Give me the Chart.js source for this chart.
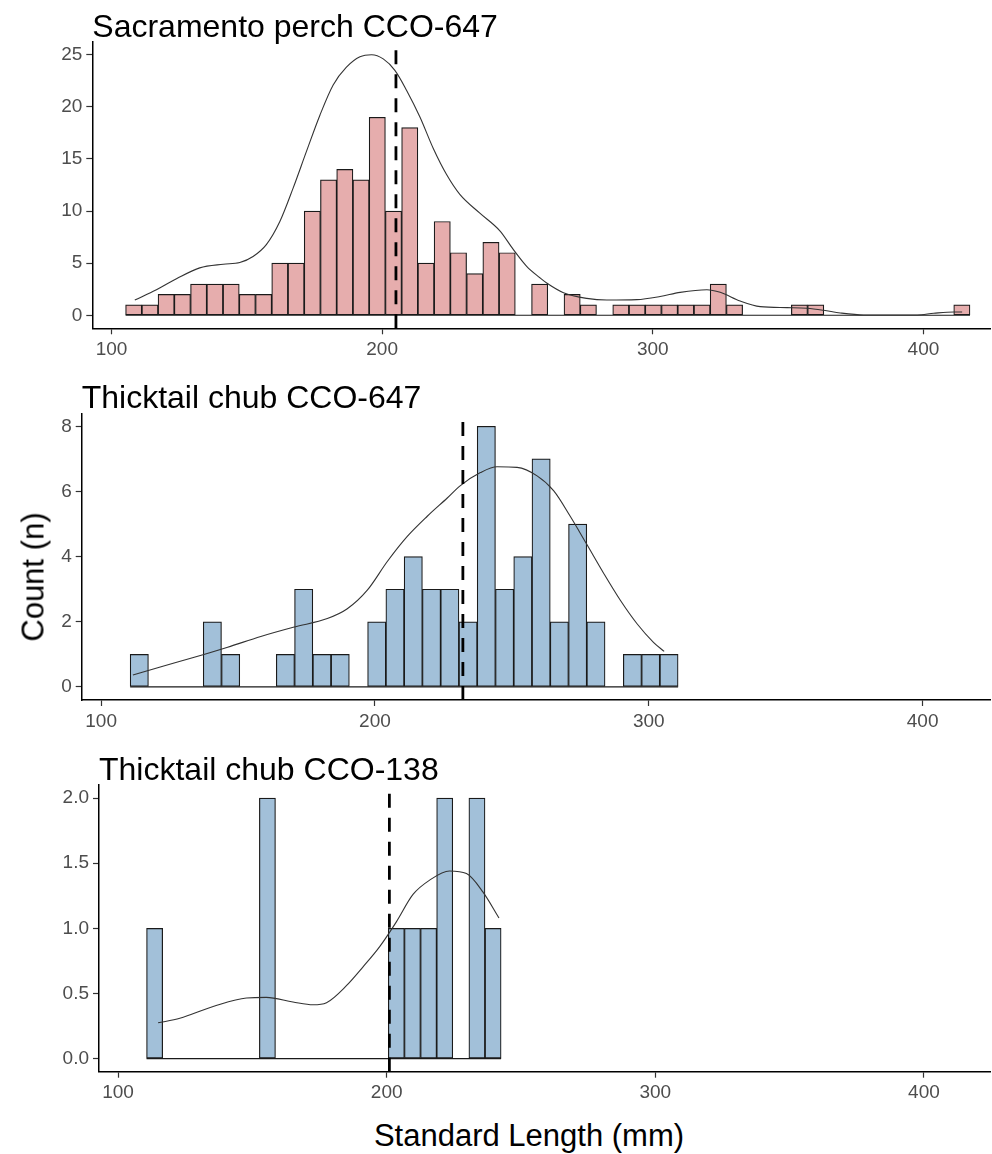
<!DOCTYPE html>
<html>
<head>
<meta charset="utf-8">
<title>Standard length histograms</title>
<script src="https://cdn.jsdelivr.net/npm/chart.js"></script>
<style>
  html, body { margin: 0; padding: 0; background: #fff; }
  #page { position: relative; width: 992px; height: 1154px; overflow: hidden; font-family: "Liberation Sans", Arial, sans-serif; }
  canvas { position: absolute; left: 0; }
  .axis-title { position: absolute; font-size: 31px; line-height: 31px; color: #000; white-space: nowrap; }
  #ytitle { left: 33px; top: 577px; transform: translate(-50%, -50%) rotate(-90deg); }
  #xtitle { left: 529px; top: 1120px; transform: translateX(-50%); }
</style>
</head>
<body>
<div id="page">
  <canvas id="perch" width="992" height="370" style="top:0px"></canvas>
  <canvas id="chub647" width="992" height="370" style="top:370px"></canvas>
  <canvas id="chub138" width="992" height="370" style="top:740px"></canvas>
  <div class="axis-title" id="ytitle">Count (n)</div>
  <div class="axis-title" id="xtitle">Standard Length (mm)</div>
</div>
<script>
// x axis shared by the three panels
const xTicks = [100, 200, 300, 400];
const xRange = [92.9, 424.6];

// Sacramento perch CCO-647
const perchTitle = "Sacramento perch CCO-647";
const perchBinStart = 105.2;
const perchBinWidth = 6;
const perchCounts = [1, 1, 2, 2, 3, 3, 3, 2, 2, 5, 5, 10, 13, 14, 13, 19, 10, 18, 5, 9, 6, 4, 7, 6,
  0, 3, 0, 2, 1, 0, 1, 1, 1, 1, 1, 1, 3, 1, 0, 0, 0, 1, 1, 0, 0, 0, 0, 0, 0, 0, 0, 1];
const perchDensX = [108.6, 116.6, 124.0, 132.6, 141.3, 147.4, 152.3, 157.2, 162.2, 167.1, 172.0, 177.0,
  181.9, 186.8, 191.8, 196.1, 200.4, 204.7, 209.0, 214.0, 218.9, 223.8, 228.7, 236.1, 243.5, 248.5,
  253.4, 258.3, 260.8, 267.0, 275.6, 283.0, 294.1, 302.7, 310.1, 320.0, 324.9, 332.3, 339.7, 349.6,
  357.0, 363.1, 369.3, 377.9, 397.7, 403.8, 411.2, 414.3];
const perchDensY = [1.46, 2.45, 3.5, 4.55, 4.9, 5.06, 5.64, 6.78, 9.0, 12.2, 15.7, 19.2,
  22.1, 23.8, 24.8, 25.0, 24.6, 23.5, 21.6, 19.0, 16.0, 13.5, 11.6, 9.8, 8.1, 6.3,
  4.7, 3.6, 3.1, 2.17, 1.62, 1.46, 1.5, 1.8, 2.2, 2.45, 2.2, 1.37, 0.83, 0.73,
  0.67, 0.48, 0.22, 0.03, 0.03, 0.19, 0.32, 0.32];
const perchMean = 205.1;
const perchYTicks = [0, 5, 10, 15, 20, 25];
const perchYRange = [-1.25, 26.25];

// Thicktail chub CCO-647
const chub647Title = "Thicktail chub CCO-647";
const chub647BinStart = 110.6;
const chub647BinWidth = 6.67;
const chub647Counts = [1, 0, 0, 0, 2, 1, 0, 0, 1, 3, 1, 1, 0, 2, 3, 4, 3, 3, 2, 8, 3, 4, 7, 2, 5, 2, 0, 1, 1, 1];
const chub647DensX = [111.6, 121.9, 134.0, 146.2, 158.3, 170.5, 182.6, 189.9, 197.2, 204.5, 211.8, 219.1,
  226.4, 231.2, 238.5, 244.6, 251.9, 259.2, 265.3, 271.3, 277.4, 283.5, 289.6, 295.7, 301.7, 305.6];
const chub647DensY = [0.37, 0.62, 0.91, 1.22, 1.55, 1.84, 2.1, 2.4, 2.97, 3.85, 4.62, 5.24,
  5.8, 6.18, 6.58, 6.76, 6.74, 6.48, 6.02, 5.24, 4.37, 3.49, 2.66, 1.94, 1.37, 1.09];
const chub647Mean = 232.1;
const chub647YTicks = [0, 2, 4, 6, 8];
const chub647YRange = [-0.4, 8.4];

// Thicktail chub CCO-138
const chub138Title = "Thicktail chub CCO-138";
const chub138BinStart = 110.6;
const chub138BinWidth = 6;
const chub138Counts = [1, 0, 0, 0, 0, 0, 0, 2, 0, 0, 0, 0, 0, 0, 0, 1, 1, 1, 2, 0, 2, 1];
const chub138DensX = [114.9, 123.0, 135.4, 147.8, 155.2, 165.1, 172.6, 177.6, 185.0, 191.2, 197.4, 203.6,
  209.8, 216.0, 223.4, 229.7, 235.8, 241.8];
const chub138DensY = [0.275, 0.31, 0.40, 0.466, 0.47, 0.435, 0.414, 0.43, 0.56, 0.705, 0.86, 1.05,
  1.26, 1.37, 1.44, 1.42, 1.28, 1.08];
const chub138Mean = 201.0;
const chub138YTicks = [0, 0.5, 1, 1.5, 2];
const chub138YRange = [-0.1, 2.1];

Chart.defaults.font.family = '"Liberation Sans", Arial, sans-serif';

const pink = "rgb(230,173,173)";
const blue = "rgb(162,192,217)";

function histogram(canvasId, p, g) {
  const bars = p.counts.map((n, i) => ({ x: p.binStart + (i + 0.5) * p.binWidth, y: n }));
  const density = p.densX.map((x, i) => ({ x: x, y: p.densY[i] }));
  const binEnd = p.binStart + p.counts.length * p.binWidth;

  return new Chart(document.getElementById(canvasId), {
    type: "bar",
    data: {
      datasets: [
        { // mean line
          type: "line",
          data: [{ x: p.mean, y: p.yRange[0] }, { x: p.mean, y: p.yRange[1] }],
          borderColor: "#000", borderWidth: 2.8, borderDash: [14, 10], borderCapStyle: "butt",
          pointRadius: 0, order: 0
        },
        { // density, scaled to counts
          type: "line",
          data: density,
          borderColor: "#333", borderWidth: 1.1, pointRadius: 0,
          cubicInterpolationMode: "monotone", order: 1
        },
        {
          type: "bar",
          data: bars,
          backgroundColor: p.fill, borderColor: "#1a1a1a", borderWidth: 1.2, borderSkipped: false,
          barPercentage: 1, categoryPercentage: 1, order: 2
        },
        { // empty bins show as a line at zero
          type: "line",
          data: [{ x: p.binStart, y: 0 }, { x: binEnd, y: 0 }],
          borderColor: "#1a1a1a", borderWidth: 1.2, pointRadius: 0, order: 3
        }
      ]
    },
    options: {
      responsive: false,
      animation: false,
      events: [],
      layout: { padding: { left: 0, right: 2, top: 0, bottom: 0 } },
      plugins: {
        legend: { display: false },
        tooltip: { enabled: false },
        title: {
          display: true, text: p.title, align: "start", fullSize: false, color: "#000",
          font: { size: 32, weight: "normal", lineHeight: 1 },
          padding: { top: g.top - 29.8, bottom: -2.2 }
        }
      },
      scales: {
        x: {
          type: "linear", min: xRange[0], max: xRange[1], offset: false,
          afterBuildTicks: s => { s.ticks = xTicks.map(v => ({ value: v })); },
          afterFit: s => { s.height = g.xHeight; },
          grid: { offset: false, drawOnChartArea: false, drawTicks: true, tickLength: 6, tickColor: "#333", tickWidth: 1.2 },
          border: { display: true, color: "#000", width: 1.5 },
          ticks: { color: "#4d4d4d", font: { size: 19 }, padding: 4, maxRotation: 0, autoSkip: false }
        },
        y: {
          type: "linear", min: p.yRange[0], max: p.yRange[1],
          afterBuildTicks: s => { s.ticks = p.yTicks.map(v => ({ value: v })); },
          afterFit: s => { s.width = g.yWidth; },
          grid: { drawOnChartArea: false, drawTicks: true, tickLength: 6, tickColor: "#333", tickWidth: 1.2 },
          border: { display: true, color: "#000", width: 1.5 },
          ticks: {
            color: "#4d4d4d", font: { size: 19 }, padding: 4, autoSkip: false,
            callback: v => v.toFixed(p.yDigits)
          }
        }
      }
    }
  });
}

histogram("perch", {
  title: perchTitle, binStart: perchBinStart, binWidth: perchBinWidth, counts: perchCounts,
  densX: perchDensX, densY: perchDensY, mean: perchMean, yTicks: perchYTicks, yRange: perchYRange,
  yDigits: 0, fill: pink
}, { top: 41.7, xHeight: 41.7, yWidth: 92.3 });

histogram("chub647", {
  title: chub647Title, binStart: chub647BinStart, binWidth: chub647BinWidth, counts: chub647Counts,
  densX: chub647DensX, densY: chub647DensY, mean: chub647Mean, yTicks: chub647YTicks, yRange: chub647YRange,
  yDigits: 0, fill: blue
}, { top: 43.3, xHeight: 40, yWidth: 81.7 });

histogram("chub138", {
  title: chub138Title, binStart: chub138BinStart, binWidth: chub138BinWidth, counts: chub138Counts,
  densX: chub138DensX, densY: chub138DensY, mean: chub138Mean, yTicks: chub138YTicks, yRange: chub138YRange,
  yDigits: 1, fill: blue
}, { top: 45, xHeight: 38.3, yWidth: 99 });
</script>
</body>
</html>
